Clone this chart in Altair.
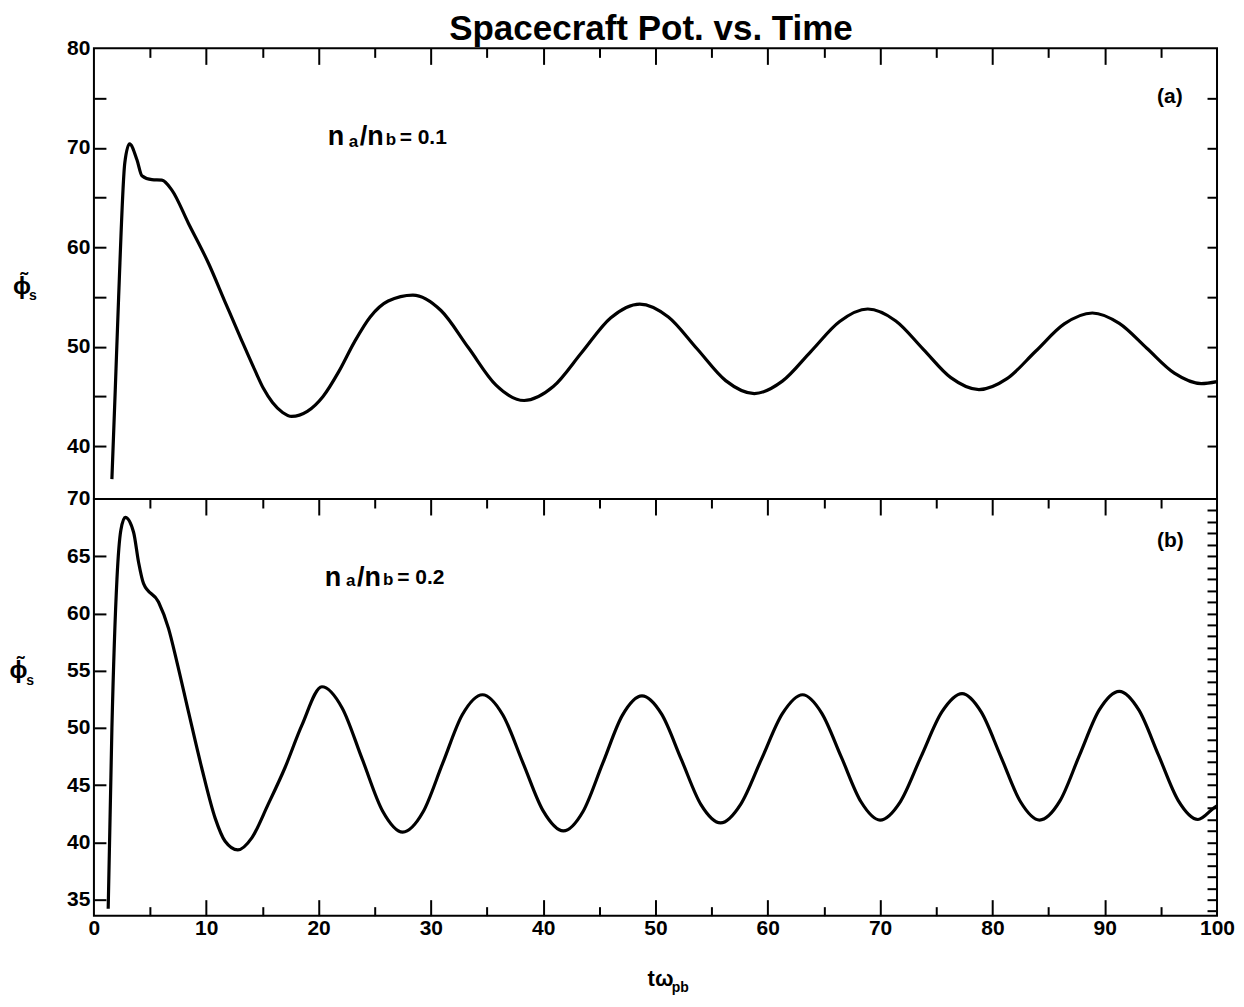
import altair as alt
import pandas as pd

TITLE = "Spacecraft Pot. vs. Time"
FONT = "Liberation Sans"

# ---- panel (a): n_a/n_b = 0.1 ----
t_a = [1.6, 1.9, 2.2, 2.75, 3.17, 3.83, 4.27, 5.16, 6.05, 6.94, 8.42, 10.2, 11.68,
       13.17, 14.35, 15.1, 15.9, 16.8, 17.6, 19.0, 20.4, 21.8, 23.2, 24.6, 26.2,
       28.4, 30.9, 33.35, 35.8, 38.3, 40.9, 43.45, 46.0, 48.6, 51.15, 53.7, 56.25,
       58.8, 61.3, 63.85, 66.4, 68.9, 71.4, 73.85, 76.3, 78.8, 81.3, 83.85, 86.4,
       88.9, 91.3, 93.75, 96.2, 98.6, 100.0]
phi_a = [36.7, 45.7, 55.0, 68.5, 70.4, 68.8, 67.2, 66.8, 66.75, 65.75, 62.4, 58.4, 54.5,
         50.6, 47.6, 45.8, 44.4, 43.4, 43.0, 43.5, 45.0, 47.5, 50.5, 53.0, 54.6,
         55.2, 53.65, 49.9, 46.15, 44.6, 46.0, 49.45, 52.9, 54.3, 53.0, 49.8, 46.6,
         45.3, 46.55, 49.55, 52.55, 53.8, 52.6, 49.75, 46.9, 45.7, 46.8, 49.55, 52.3,
         53.4, 52.35, 49.85, 47.35, 46.3, 46.5]

# ---- panel (b): n_a/n_b = 0.2 ----
t_b = [1.27, 1.6, 2.05, 2.4, 2.79, 3.53, 3.97, 4.42, 5.75, 6.64, 7.38, 8.42, 9.6,
       10.8, 11.68, 12.81, 14.06, 15.5, 17.0, 18.5, 20.3, 22.1, 23.9, 25.7, 27.5,
       29.3, 31.05, 32.8, 34.6, 36.4, 38.2, 40.0, 41.8, 43.55, 45.3, 47.05, 48.8,
       50.55, 52.3, 54.05, 55.8, 57.6, 59.45, 61.3, 63.1, 64.8, 66.55, 68.3, 70.0,
       71.8, 73.65, 75.5, 77.3, 79.0, 80.75, 82.5, 84.2, 86.0, 87.75, 89.5, 91.3,
       93.05, 94.8, 96.55, 98.3, 99.7, 100.0]
phi_b = [34.2, 49.95, 63.0, 67.3, 68.4, 67.1, 64.5, 62.6, 61.0, 58.7, 55.8, 51.4, 46.5,
         42.1, 40.1, 39.35, 40.4, 43.3, 46.5, 50.2, 53.6, 51.75, 47.25, 42.75, 40.9,
         42.65, 46.9, 51.15, 52.9, 51.15, 46.95, 42.75, 41.0, 42.7, 46.9, 51.1, 52.8,
         51.2, 47.25, 43.3, 41.7, 43.35, 47.3, 51.25, 52.9, 51.3, 47.45, 43.55, 41.95,
         43.55, 47.5, 51.4, 53.0, 51.4, 47.5, 43.55, 41.95, 43.6, 47.6, 51.55, 53.2,
         51.55, 47.6, 43.65, 42.0, 43.0, 43.2]

# ---- axes ticks / labels ----
x_edge_ticks = [5, 10, 15, 20, 25, 30, 35, 40, 45, 50, 55, 60, 65, 70, 75, 80, 85, 90, 95]
x_labels = [0, 10, 20, 30, 40, 50, 60, 70, 80, 90, 100]
ya_labels = [40, 50, 60, 70, 80]
ya_left_ticks = [40, 45, 50, 55, 60, 65, 70, 75]
ya_right_ticks = [40, 45, 50, 55, 60, 65, 70, 75]
yb_labels = [35, 40, 45, 50, 55, 60, 65, 70]
yb_left_ticks = [35, 40, 45, 50, 55, 60, 65]
yb_right_ticks = list(range(34, 70))

# ---- annotations (text, x, y, font size) ----
ann_a_text = ["n", "a", "/n", "b", "= 0.1", "(a)"]
ann_a_x = [20.81, 22.69, 23.67, 25.98, 27.22, 94.66]
ann_a_y = [71.04, 70.6, 71.04, 70.8, 71.0, 75.1]
ann_a_fs = [27, 17, 27, 17, 21, 21]

ann_b_text = ["n", "a", "/n", "b", "= 0.2", "(b)"]
ann_b_x = [20.55, 22.45, 23.42, 25.75, 27.0, 94.66]
ann_b_y = [63.1, 62.84, 63.1, 62.92, 63.1, 66.33]
ann_b_fs = [27, 17, 27, 17, 21, 21]

ylab_text = ["\u03d5\u0303", "s"]
ylab_a_x = [-6.4, -5.43]
ylab_a_y = [56.03, 55.13]
ylab_b_x = [-6.72, -5.69]
ylab_b_y = [54.98, 54.1]
ylab_fs = [24, 14]

xlab_text = ["t\u03c9", "pb"]
xlab_x = [49.3, 51.45]
xlab_y = [28.05, 27.26]
xlab_fs = [22, 14]

title_x = [49.6]
title_y = [80.8]

W = 1124
H_A = 451
H_B = 417
YDOM_A = [34.7, 80]
YDOM_B = [33.6, 70]

TICK_SIZE = {"condition": {"test": "datum.value % 10 === 0", "value": 16}, "value": 9}


def tick_axis(orient, offset, values, size):
    return alt.Axis(orient=orient, offset=offset, values=values, tickSize=size,
                    grid=False, domain=False, labels=False, title=None,
                    tickColor="black", tickWidth=2)


def text_layer(texts, xs, ys, fss, xscale, yscale, bold=True, align="left",
               baseline="middle"):
    df = pd.DataFrame({"x": xs, "y": ys, "txt": texts, "fs": fss})
    return alt.Chart(df).mark_text(
        font=FONT, fontWeight="bold" if bold else "normal", align=align,
        baseline=baseline, color="black"
    ).encode(
        x=alt.X("x:Q", scale=xscale, axis=None),
        y=alt.Y("y:Q", scale=yscale, axis=None),
        text="txt:N",
        size=alt.Size("fs:Q", scale=None, legend=None),
    )


def panel(t, phi, ydom, H, ylabels, yleft, yright, bottom):
    df = pd.DataFrame({"t": t, "phi": phi})
    xs = alt.Scale(domain=[0, 100], nice=False, zero=False)
    ys = alt.Scale(domain=ydom, nice=False, zero=False)

    left_lab = alt.Axis(orient="left", values=ylabels, ticks=False, domain=False,
                        grid=False, title=None, labelPadding=4, labelFontSize=21,
                        labelFont=FONT, labelFontWeight="bold", labelColor="black",
                        labelFlush=False, labelOverlap=False)
    line = alt.Chart(df).mark_line(color="black", strokeWidth=3.2,
                                   interpolate="monotone").encode(
        x=alt.X("t:Q", scale=xs, axis=tick_axis("bottom", -H, x_edge_ticks, TICK_SIZE)),
        y=alt.Y("phi:Q", scale=ys, axis=left_lab),
    )

    x2_axis = tick_axis("top", -H, x_edge_ticks, TICK_SIZE) if bottom else None
    l2 = alt.Chart(df).mark_point(opacity=0).encode(
        x=alt.X("t:Q", scale=xs, axis=x2_axis),
        y=alt.Y("phi:Q", scale=ys, axis=tick_axis("right", -W, yleft, 12)),
    )

    if bottom:
        x3_axis = alt.Axis(orient="bottom", values=x_labels, ticks=False, domain=False,
                           grid=False, title=None, labelPadding=2, labelFontSize=21,
                           labelFont=FONT, labelFontWeight="bold", labelColor="black",
                           labelFlush=False, labelOverlap=False, format="d")
    else:
        x3_axis = None
    l3 = alt.Chart(df).mark_point(opacity=0).encode(
        x=alt.X("t:Q", scale=xs, axis=x3_axis),
        y=alt.Y("phi:Q", scale=ys, axis=tick_axis("left", -W, yright, 10)),
    )

    layers = [line, l2, l3]
    if not bottom:
        layers.append(text_layer(ann_a_text, ann_a_x, ann_a_y, ann_a_fs, xs, ys))
        layers.append(text_layer(ylab_text, ylab_a_x, ylab_a_y, ylab_fs, xs, ys,
                                 align="center"))
        layers.append(text_layer([TITLE], title_x, title_y, [35], xs, ys,
                                 align="center", baseline="alphabetic"))
    else:
        layers.append(text_layer(ann_b_text, ann_b_x, ann_b_y, ann_b_fs, xs, ys))
        layers.append(text_layer(ylab_text, ylab_b_x, ylab_b_y, ylab_fs, xs, ys,
                                 align="center"))
        layers.append(text_layer(xlab_text, xlab_x, xlab_y, xlab_fs, xs, ys))

    return alt.layer(*layers).resolve_axis(x="independent", y="independent").properties(
        width=W, height=H)


top = panel(t_a, phi_a, YDOM_A, H_A, ya_labels, ya_left_ticks, ya_right_ticks, False)
bot = panel(t_b, phi_b, YDOM_B, H_B, yb_labels, yb_left_ticks, yb_right_ticks, True)

chart = alt.vconcat(top, bot, spacing=0, bounds="flush").properties(
    padding={"left": 0, "top": 3, "right": 0, "bottom": 0},
    background="white",
).configure_view(stroke="black", strokeWidth=2)

chart.save("out.html", embed_options={"renderer": "svg", "actions": False})
